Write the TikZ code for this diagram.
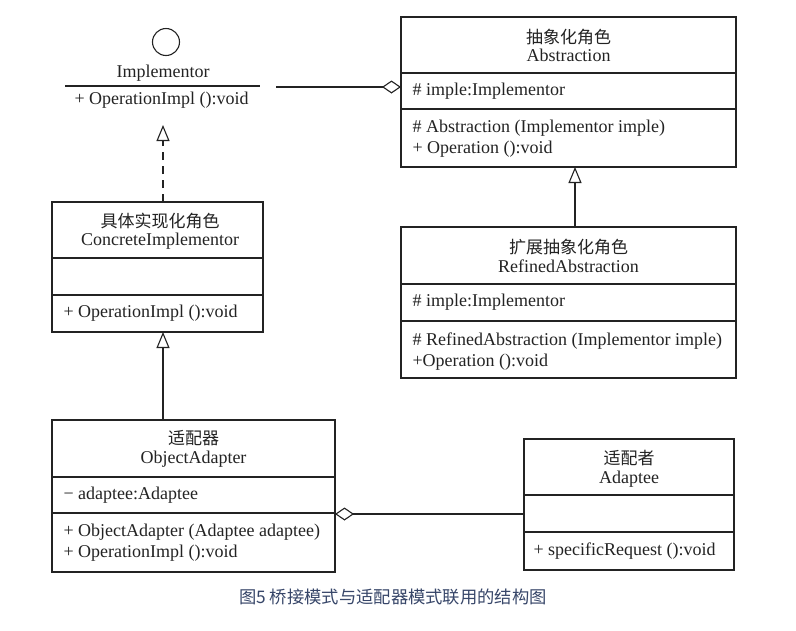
\documentclass[tikz,border=0pt]{standalone}
\usepackage{fontspec}
\setmainfont{Liberation Serif}
\newfontfamily\cjk{Noto Sans CJK SC}
\usetikzlibrary{arrows.meta}
\definecolor{ink}{RGB}{35,35,35}
\definecolor{capblue}{RGB}{55,70,105}
\begin{document}
\begin{tikzpicture}[x=1pt,y=-1pt,line width=1.1pt,
  umlbox/.style={draw=ink,inner sep=0pt,outer sep=0pt,anchor=north west},
  txt/.style={inner sep=0pt,text=ink,font=\fontsize{18}{20}\selectfont,text height=12.5pt,text depth=4pt},
  lefttxt/.style={txt,anchor=west},
  cjktxt/.style={inner sep=0pt,text=ink,font=\cjk\fontsize{17}{20}\selectfont},
  divider/.style={draw=ink},
  conn/.style={draw=ink},
  gen/.style={conn,-{Triangle[open,length=16pt,width=13pt]}},
  real/.style={gen,dash pattern=on 8pt off 6pt},
  agg/.style={conn,{Diamond[open,length=19pt,width=13pt]}-}]
\fill[white] (0,0) rectangle (796,630);
\useasboundingbox (0,0) rectangle (796,630);

% ---------- Implementor (interface) ----------
\node[draw=ink,circle,minimum size=27pt,inner sep=0pt] (icircle) at (166,42) {};
\node[txt] (iname) at (163,73) {Implementor};
\coordinate (iL) at (65,86);
\coordinate (iR) at (260,86);
\draw[divider] (iL) -- (iR);
\node[lefttxt] (iop) at (74,100) {+ OperationImpl ():void};

% ---------- Abstraction ----------
\node[umlbox,minimum width=335pt,minimum height=150pt] (abs) at (401,17) {};
\draw[divider] (401,73) -- (736,73);
\draw[divider] (401,109) -- (736,109);
\node[cjktxt] (abs-c) at (568.5,37) {抽象化角色};
\node[txt] (abs-e) at (568.5,57) {Abstraction};
\node[lefttxt] (abs-a) at (412,91) {\# imple:Implementor};
\node[lefttxt] (abs-o1) at (412,128) {\# Abstraction (Implementor imple)};
\node[lefttxt] (abs-o2) at (412,149) {+ Operation ():void};

% ---------- ConcreteImplementor ----------
\node[umlbox,minimum width=211pt,minimum height=130pt] (ci) at (52,202) {};
\draw[divider] (52,258) -- (263,258);
\draw[divider] (52,295) -- (263,295);
\node[cjktxt] (ci-c) at (160,221) {具体实现化角色};
\node[txt] (ci-e) at (160,241) {ConcreteImplementor};
\node[lefttxt] (ci-o) at (63,313) {+ OperationImpl ():void};

% ---------- RefinedAbstraction ----------
\node[umlbox,minimum width=335pt,minimum height=151pt] (ref) at (401,227) {};
\draw[divider] (401,284) -- (736,284);
\draw[divider] (401,321) -- (736,321);
\node[cjktxt] (ref-c) at (568.5,247) {扩展抽象化角色};
\node[txt] (ref-e) at (568.5,268) {RefinedAbstraction};
\node[lefttxt] (ref-a) at (412,302) {\# imple:Implementor};
\node[lefttxt] (ref-o1) at (412,341) {\# RefinedAbstraction (Implementor imple)};
\node[lefttxt] (ref-o2) at (412,362) {+Operation ():void};

% ---------- ObjectAdapter ----------
\node[umlbox,minimum width=283pt,minimum height=152pt] (oa) at (52,420) {};
\draw[divider] (52,477) -- (335,477);
\draw[divider] (52,513) -- (335,513);
\node[cjktxt] (oa-c) at (193.5,438) {适配器};
\node[txt] (oa-e) at (193.5,459) {ObjectAdapter};
\node[lefttxt] (oa-a) at (63,495) {− adaptee:Adaptee};
\node[lefttxt] (oa-o1) at (63,532) {+ ObjectAdapter (Adaptee adaptee)};
\node[lefttxt] (oa-o2) at (63,553) {+ OperationImpl ():void};

% ---------- Adaptee ----------
\node[umlbox,minimum width=210pt,minimum height=131pt] (adt) at (524,439) {};
\draw[divider] (524,495) -- (734,495);
\draw[divider] (524,532) -- (734,532);
\node[cjktxt] (adt-c) at (629,458) {适配者};
\node[txt] (adt-e) at (629,479) {Adaptee};
\node[lefttxt] (adt-o) at (533,551) {+ specificRequest ():void};

% ---------- connectors ----------
\coordinate (aggL) at (276,87);
\draw[conn,-{Diamond[open,length=19pt,width=13pt]}] (aggL) -- (aggL -| abs.west);

\coordinate (iTip) at (163,125);
\draw[real] (iTip |- ci.north) -- (iTip);

\coordinate (gx) at (575,0);
\draw[gen] (gx |- ref.north) -- (gx |- abs.south);

\coordinate (cx) at (163,0);
\draw[gen] (cx |- oa.north) -- (cx |- ci.south);

\coordinate (ay) at (0,514);
\draw[agg] (ay -| oa.east) -- (ay -| adt.west);

% ---------- caption ----------
\node[inner sep=0pt,text=capblue,font=\cjk\fontsize{17.3}{20}\selectfont] (cap) at (393,597) {图5 桥接模式与适配器模式联用的结构图};
\end{tikzpicture}
\end{document}
